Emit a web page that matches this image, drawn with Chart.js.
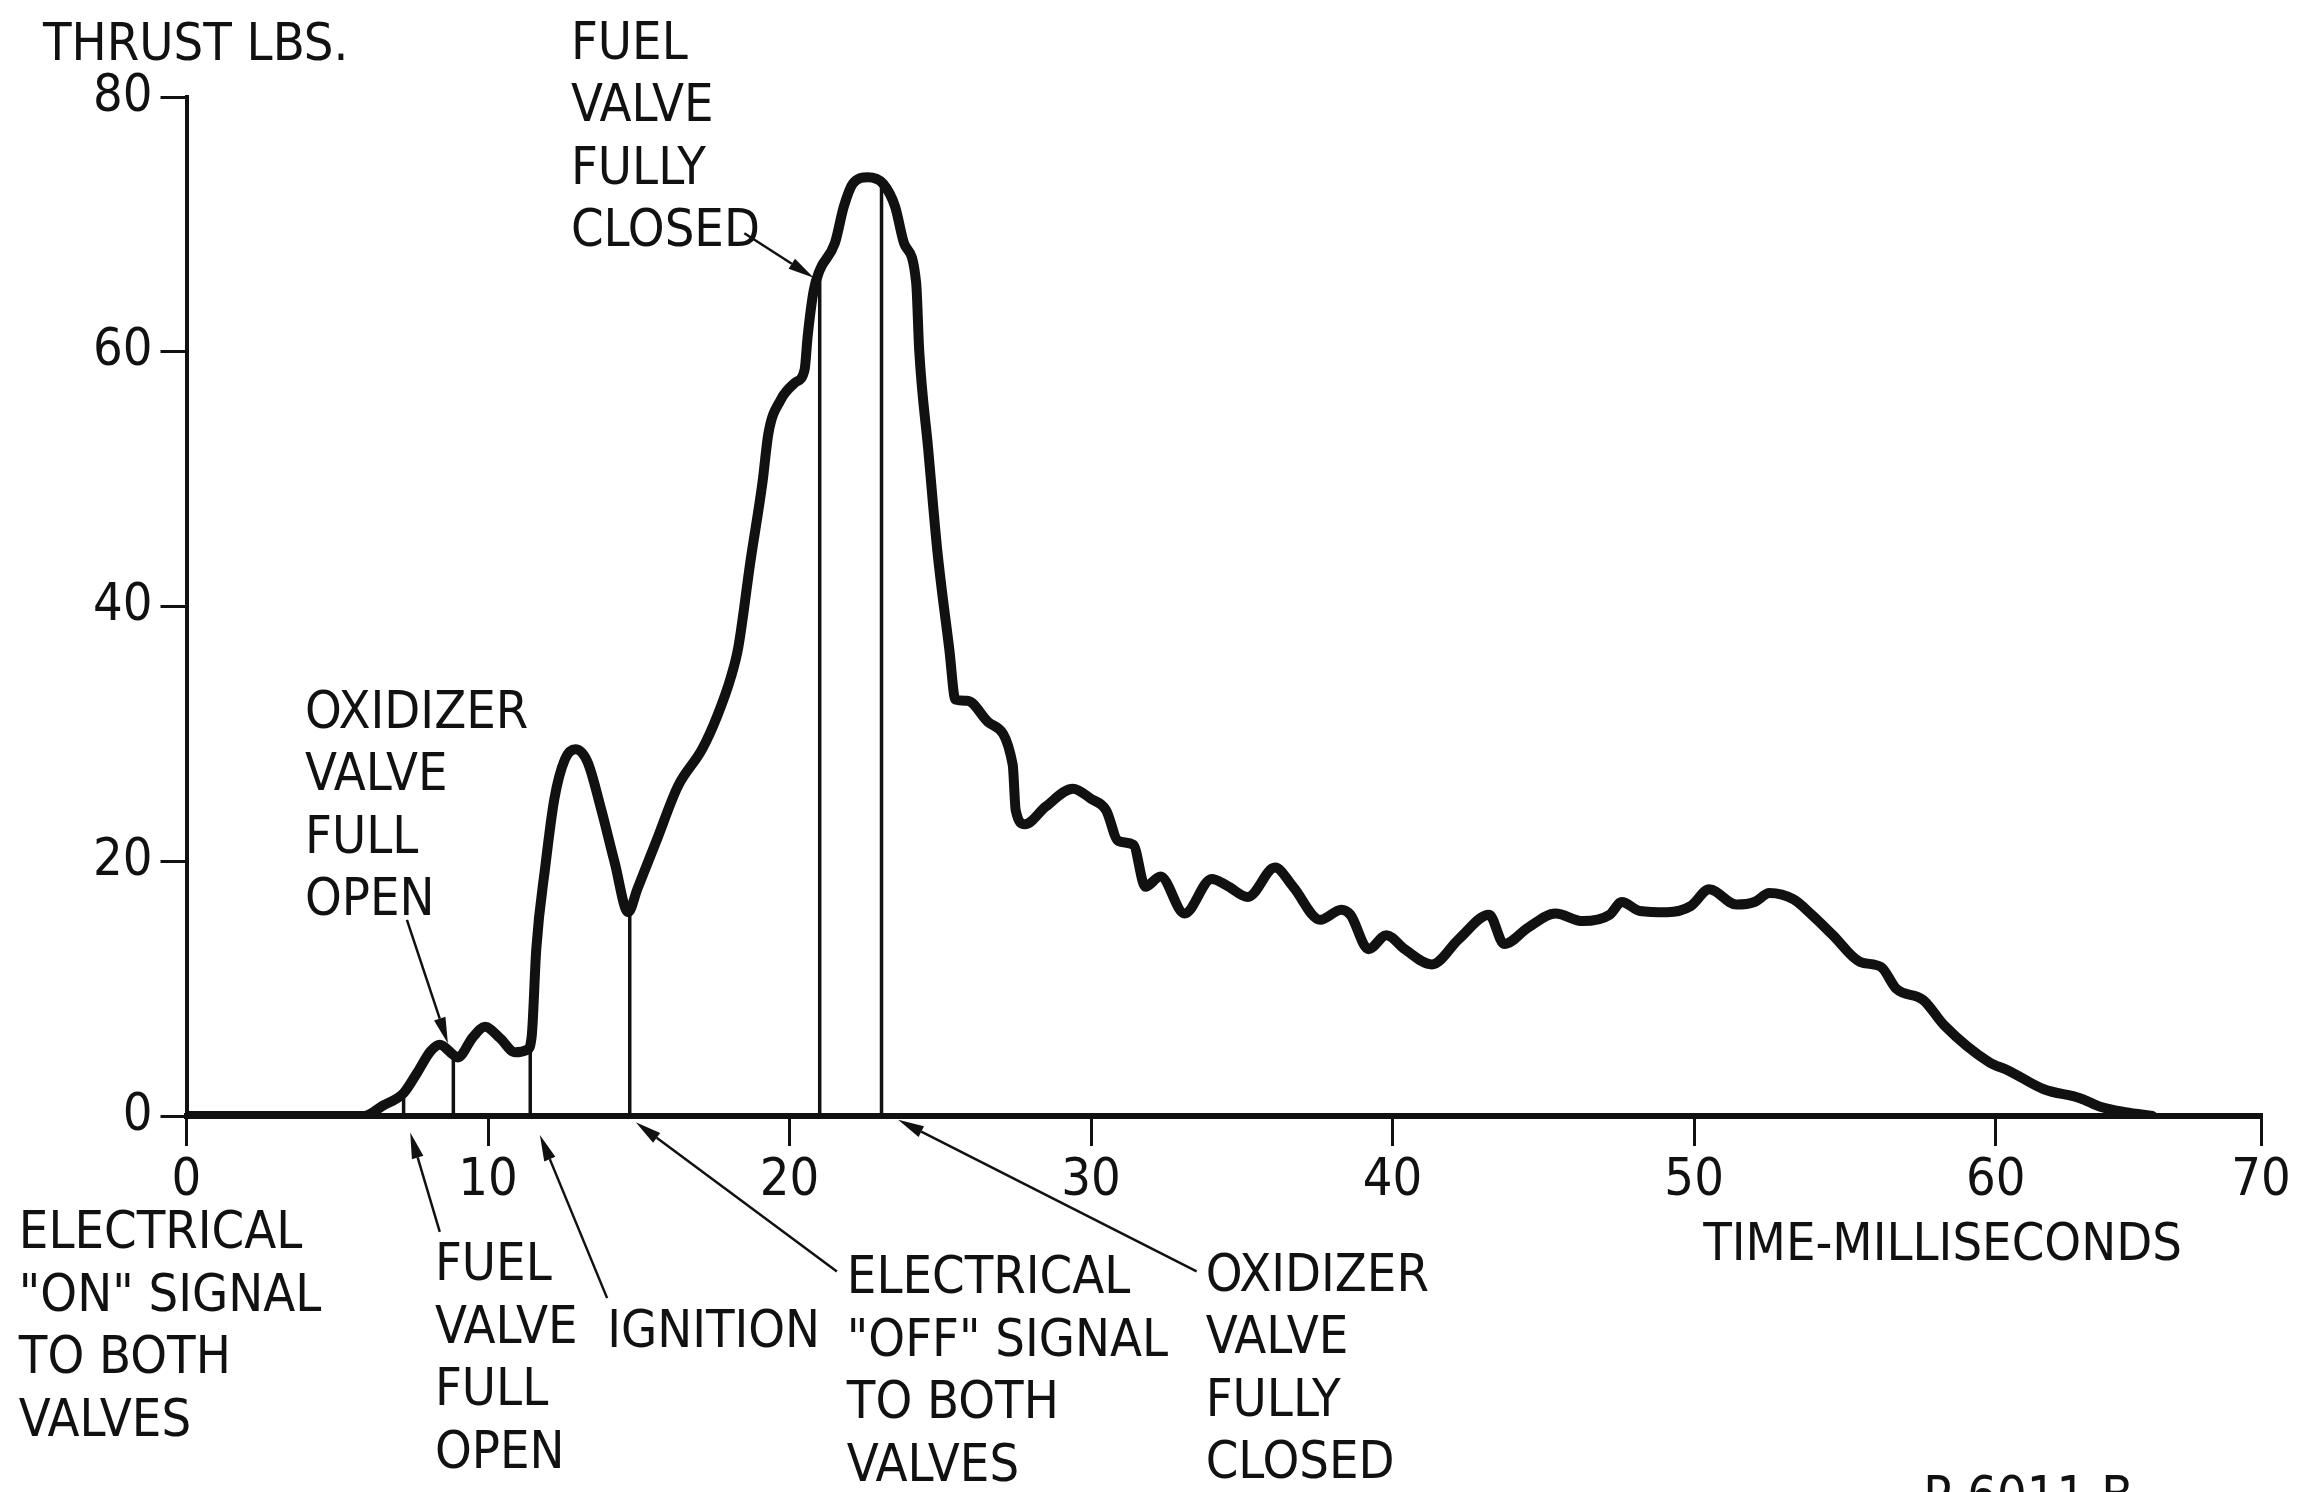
<!DOCTYPE html>
<html>
<head>
<meta charset="utf-8">
<title>Thrust trace</title>
<script src="https://cdn.jsdelivr.net/npm/chart.js@4/dist/chart.umd.min.js"></script>
<style>
  html, body { margin: 0; padding: 0; background: #fff; }
  #wrap { width: 2301px; height: 1492px; position: relative; }
</style>
</head>
<body>
<div id="wrap"><canvas id="thrustChart"></canvas></div>
<script>
// thrust trace (ms, lbs)
const timeMs = [0, 5.9, 6.5, 7.2, 7.65, 8.1, 8.4, 8.85, 9.0, 9.5, 9.9, 10.4, 10.9, 11.3, 11.45, 11.6,
  11.9, 12.2, 12.55, 12.9, 13.3, 13.75, 14.2, 14.65, 14.95, 15.6, 16.3, 17.1, 17.6, 18.06, 18.3, 18.7,
  19.1, 19.3, 19.7, 20.2, 20.5, 20.6, 20.8, 21.0, 21.5, 21.8, 22.1, 22.6, 23.1, 23.5, 23.8, 24.2, 24.3,
  24.6, 24.9, 25.3, 25.5, 25.9, 26.6, 27.4, 27.5, 27.8, 28.5, 29.4, 30.0, 30.5, 30.9, 31.4, 31.8, 32.3,
  33.1, 34.0, 34.5, 35.2, 36.1, 36.7, 37.6, 38.3, 38.6, 39.2, 39.8, 40.4, 41.3, 42.2, 43.2, 43.7, 44.5,
  45.4, 46.3, 47.2, 47.6, 48.2, 49.1, 49.9, 50.5, 51.4, 52.0, 52.5, 53.3, 53.9, 54.6, 55.5, 56.2, 56.7,
  57.6, 58.3, 59.8, 60.4, 61.6, 62.8, 63.5, 64.3, 65.2];
const thrustLbs = [0, 0, 0.8, 1.8, 3.4, 5.1, 5.6, 4.8, 4.6, 6.2, 7.0, 6.1, 5.0, 5.2, 6.3, 13.1,
  19.6, 24.9, 28.0, 28.8, 27.8, 24.1, 19.9, 16.0, 17.8, 21.7, 25.9, 28.8, 31.4, 34.5, 36.8, 43.5,
  49.7, 53.6, 56.2, 57.6, 58.6, 61.2, 64.8, 66.4, 68.5, 71.4, 73.2, 73.7, 73.2, 71.4, 68.5, 65.4, 60.1,
  52.3, 44.4, 36.6, 32.7, 32.6, 30.9, 27.6, 24.0, 22.9, 24.3, 25.7, 24.9, 24.0, 21.6, 21.3, 18.0, 18.8,
  15.9, 18.6, 18.1, 17.2, 19.5, 18.0, 15.4, 16.2, 15.8, 13.1, 14.2, 13.1, 11.9, 13.9, 15.8, 13.5, 14.8,
  15.9, 15.3, 15.8, 16.8, 16.1, 16.0, 16.5, 17.8, 16.6, 16.8, 17.5, 17.0, 15.8, 14.2, 12.1, 11.7, 10.0,
  9.1, 7.1, 4.2, 3.6, 2.1, 1.4, 0.7, 0.3, 0];

// event markers: time and where the thin line meets the trace
const markerTimes = [7.2, 8.85, 11.4, 14.7, 21.0, 23.05];
const markerTops = [1.8, 4.9, 5.4, 16.0, 65.8, 73.3];

const yTicks = [0, 20, 40, 60, 80];
const xTickValues = [0, 10, 20, 30, 40, 50, 60, 68.8];
const xTickLabels = ['0', '10', '20', '30', '40', '50', '60', '70'];

// captions, placed in data units (ms, lbs)
const notes = [
  { lines: ['THRUST LBS.'], x: -4.76, y: 82.9 },
  { lines: ['FUEL', 'VALVE', 'FULLY', 'CLOSED'], x: 12.75, y: 83.0 },
  { lines: ['OXIDIZER', 'VALVE', 'FULL', 'OPEN'], x: 3.93, y: 30.5 },
  { lines: ['ELECTRICAL', '"ON" SIGNAL', 'TO BOTH', 'VALVES'], x: -5.56, y: -10.4 },
  { lines: ['FUEL', 'VALVE', 'FULL', 'OPEN'], x: 8.24, y: -12.9 },
  { lines: ['IGNITION'], x: 13.95, y: -18.1 },
  { lines: ['ELECTRICAL', '"OFF" SIGNAL', 'TO BOTH', 'VALVES'], x: 21.9, y: -13.9 },
  { lines: ['OXIDIZER', 'VALVE', 'FULLY', 'CLOSED'], x: 33.8, y: -13.7 },
  { lines: ['TIME-MILLISECONDS'], x: 50.3, y: -11.3 },
  { lines: ['P-6011 B'], x: 57.6, y: -31.2 }
];

const arrows = [
  { from: [8.4, -9.1], to: [7.42, -1.3] },
  { from: [7.31, 15.4], to: [8.67, 5.7] },
  { from: [13.95, -14.3], to: [11.72, -1.5] },
  { from: [21.57, -12.2], to: [14.9, -0.5] },
  { from: [18.5, 69.3], to: [20.8, 65.8] },
  { from: [33.5, -12.2], to: [23.6, -0.3] }
];

const FONT = '"DejaVu Sans Condensed", "Liberation Sans Narrow", "DejaVu Sans", sans-serif';
const INK = '#111';

const notesPlugin = {
  id: 'notes',
  afterDraw(chart) {
    const ctx = chart.ctx;
    const xs = chart.scales.x;
    const ys = chart.scales.y;
    ctx.save();
    ctx.fillStyle = INK;
    ctx.strokeStyle = INK;
    ctx.font = '52px ' + FONT;
    ctx.textAlign = 'left';
    ctx.textBaseline = 'alphabetic';
    notes.forEach(n => {
      const px = xs.getPixelForValue(n.x);
      const py = ys.getPixelForValue(n.y);
      n.lines.forEach((line, i) => ctx.fillText(line, px, py + i * 62.5));
    });

    arrows.forEach(a => {
      const x1 = xs.getPixelForValue(a.from[0]);
      const y1 = ys.getPixelForValue(a.from[1]);
      const x2 = xs.getPixelForValue(a.to[0]);
      const y2 = ys.getPixelForValue(a.to[1]);
      const ang = Math.atan2(y2 - y1, x2 - x1);
      const len = 26;
      const half = 6;
      const bx = x2 - Math.cos(ang) * len;
      const by = y2 - Math.sin(ang) * len;
      ctx.lineWidth = 2.5;
      ctx.beginPath();
      ctx.moveTo(x1, y1);
      ctx.lineTo(bx, by);
      ctx.stroke();
      ctx.beginPath();
      ctx.moveTo(x2, y2);
      ctx.lineTo(bx + Math.sin(ang) * half, by - Math.cos(ang) * half);
      ctx.lineTo(bx - Math.sin(ang) * half, by + Math.cos(ang) * half);
      ctx.closePath();
      ctx.fill();
    });
    ctx.restore();
  }
};

const traceData = timeMs.map((t, i) => ({ x: t, y: thrustLbs[i] }));

const markerSets = markerTimes.map((t, i) => ({
  data: [{ x: t, y: 0 }, { x: t, y: markerTops[i] }],
  borderColor: INK,
  borderWidth: 3.5,
  pointRadius: 0,
  tension: 0
}));

new Chart(document.getElementById('thrustChart'), {
  type: 'line',
  data: {
    datasets: [{
      data: traceData,
      borderColor: INK,
      borderWidth: 10,
      borderJoinStyle: 'round',
      borderCapStyle: 'round',
      pointRadius: 0,
      cubicInterpolationMode: 'monotone'
    }, ...markerSets]
  },
  options: {
    responsive: true,
    maintainAspectRatio: false,
    animation: false,
    events: [],
    layout: { padding: { left: 0, top: 97, right: 40, bottom: 276 } },
    plugins: {
      legend: { display: false },
      tooltip: { enabled: false },
      title: { display: false }
    },
    scales: {
      x: {
        type: 'linear',
        min: 0,
        max: 68.8,
        afterBuildTicks: s => { s.ticks = xTickValues.map(v => ({ value: v })); },
        afterFit: s => { s.height = 100; },
        ticks: {
          color: INK,
          font: { size: 52, family: FONT },
          padding: 4,
          maxRotation: 0,
          autoSkip: false,
          callback: (v, i) => xTickLabels[i]
        },
        grid: { drawOnChartArea: false, drawTicks: true, tickLength: 30, color: INK, lineWidth: 3 },
        border: { display: true, color: INK, width: 6 }
      },
      y: {
        type: 'linear',
        min: 0,
        max: 80,
        afterBuildTicks: s => { s.ticks = yTicks.map(v => ({ value: v })); },
        afterFit: s => { s.width = 186.5; },
        ticks: {
          color: INK,
          font: { size: 52, family: FONT },
          padding: 8
        },
        grid: { drawOnChartArea: false, drawTicks: true, tickLength: 26, color: INK, lineWidth: 3 },
        border: { display: true, color: INK, width: 4 }
      }
    }
  },
  plugins: [notesPlugin]
});
</script>
</body>
</html>
